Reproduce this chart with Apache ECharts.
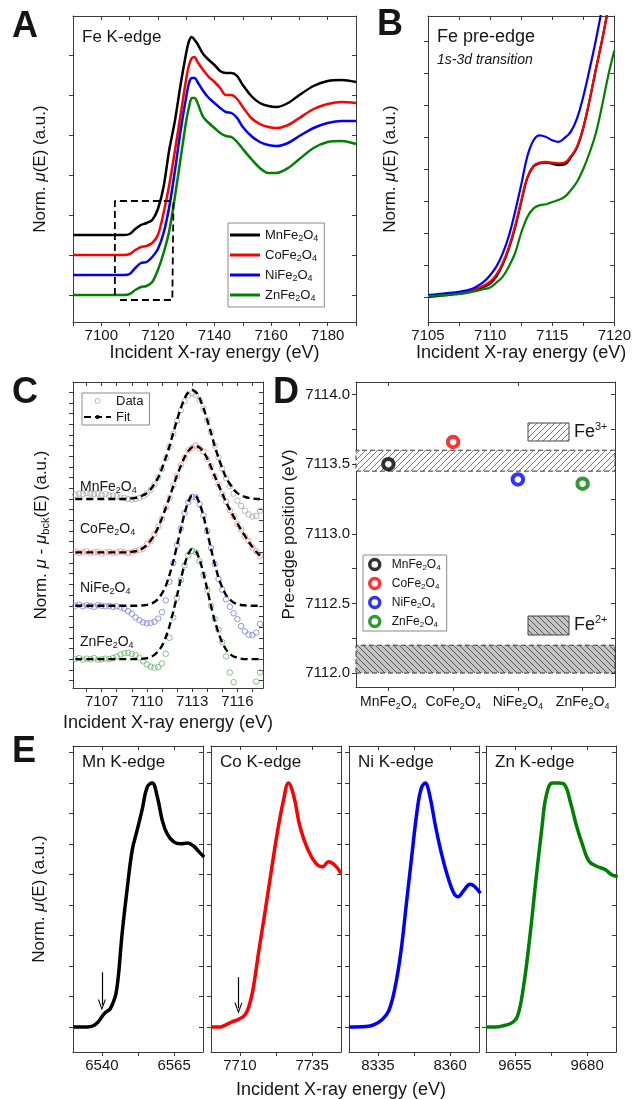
<!DOCTYPE html>
<html><head><meta charset="utf-8">
<script src="https://cdn.jsdelivr.net/npm/echarts@6/dist/echarts.min.js"></script>
<style>html,body{margin:0;padding:0;background:#fff}#c{width:634px;height:1099px}</style>
</head><body><div id="c"></div>
<script>
// ---------------- DATA ----------------
const compounds = ['MnFe2O4','CoFe2O4','NiFe2O4','ZnFe2O4'];
const colors = ['#000000','#ff0000','#0000ff','#008000'];
const dataColors = ['#a6a6a6','#f08a8a','#7a7ae6','#66b366'];

// Panel A: Fe K-edge (offset, arbitrary units)
const aEnergy = [7090,7100,7108,7110,7112,7114,7116,7118,7120,7122,7124,7126,7128,7130,7131,7132,7133,7134,7136,7138,7140,7142,7144,7146,7148,7150,7153,7156,7159,7162,7166,7170,7175,7180,7185,7190];
const aMn = [.30,.30,.30,.305,.33,.35,.36,.375,.43,.54,.725,.87,1.05,1.21,1.27,1.29,1.275,1.255,1.205,1.175,1.15,1.12,1.11,1.11,1.095,1.05,.995,.96,.945,.94,.96,1.0,1.045,1.07,1.075,1.065];
const aCo = [.2,.2,.2,.205,.225,.24,.245,.26,.3,.41,.55,.72,.9,1.08,1.15,1.185,1.19,1.165,1.125,1.09,1.065,1.035,1.0,1.0,.98,.94,.885,.855,.84,.835,.85,.885,.93,.955,.965,.96];
const aNi = [.1,.1,.1,.105,.135,.16,.165,.19,.23,.31,.44,.62,.82,.99,1.06,1.085,1.085,1.065,1.02,.985,.96,.935,.915,.91,.885,.84,.795,.765,.75,.745,.76,.795,.835,.86,.87,.87];
const aZn = [0,0,0,.005,.025,.04,.045,.065,.125,.21,.32,.49,.68,.87,.94,.985,.985,.96,.89,.86,.835,.81,.795,.79,.765,.73,.68,.635,.61,.61,.635,.68,.735,.765,.77,.755];
const boxCorners = [[7104.8,0],[7104.8,0.47],[7125.5,0.47],[7125.1,-0.025],[7106.5,-0.025]];

// Panel B: Fe pre-edge
const bEnergy = [7105,7105.5,7106,7106.5,7107,7107.5,7108,7108.5,7109,7109.5,7110,7110.5,7111,7111.5,7112,7112.5,7113,7113.5,7114,7114.5,7115,7115.5,7116,7116.5,7117,7117.5,7118,7118.5,7119,7119.5,7120];
const bMn = [0,.002,.004,.006,.008,.01,.013,.017,.024,.032,.042,.064,.1,.15,.215,.295,.372,.408,.418,.42,.416,.412,.414,.436,.468,.528,.612,.708,.8,.9,1.0];
const bCo = [.004,.006,.008,.01,.011,.013,.016,.02,.028,.036,.048,.07,.105,.155,.22,.30,.375,.41,.42,.422,.42,.418,.42,.44,.47,.53,.615,.71,.8,.9,1.0];
const bNi = [.006,.008,.01,.012,.014,.016,.02,.025,.035,.048,.068,.095,.135,.19,.265,.35,.44,.49,.505,.5,.49,.485,.497,.517,.558,.626,.71,.8,.9,1.0,1.1];
const bZn = [.003,.004,.005,.006,.008,.01,.012,.016,.02,.025,.03,.045,.063,.095,.136,.2,.25,.277,.287,.29,.297,.303,.313,.334,.36,.4,.45,.51,.595,.69,.77];

// Panel C: background-subtracted pre-edge, data and fit (offset)
const cEnergy = [7105.25,7105.5,7105.75,7106,7106.25,7106.5,7106.75,7107,7107.25,7107.5,7107.75,7108,7108.25,7108.5,7108.75,7109,7109.25,7109.5,7109.75,7110,7110.25,7110.5,7110.75,7111,7111.25,7111.5,7111.75,7112,7112.25,7112.5,7112.75,7113,7113.25,7113.5,7113.75,7114,7114.25,7114.5,7114.75,7115,7115.25,7115.5,7115.75,7116,7116.25,7116.5,7116.75,7117,7117.25,7117.5];
const cMnData = [3.08,3.10,3.09,3.11,3.10,3.09,3.10,3.08,3.09,3.07,3.06,3.05,3.03,3.02,3.0,2.99,3.0,3.02,3.05,3.1,3.17,3.27,3.4,3.56,3.76,3.98,4.22,4.46,4.66,4.83,4.94,4.98,4.95,4.85,4.69,4.48,4.25,4.0,3.78,3.57,3.39,3.24,3.1,2.97,2.87,2.78,2.71,2.67,2.68,2.78];
const cMnFit = [3,3,3,3,3,3,3,3,3,3,3,3,3,3,3,3.01,3.02,3.04,3.07,3.11,3.18,3.28,3.40,3.57,3.77,3.99,4.24,4.48,4.70,4.88,5.0,5.04,5.0,4.88,4.70,4.48,4.24,3.99,3.77,3.57,3.40,3.28,3.18,3.11,3.07,3.04,3.02,3.01,3.0,3.0];
const cCoData = [2.01,1.99,2.0,2.02,1.99,2.0,2.01,1.98,2.0,2.01,1.99,2.0,2.02,2.0,1.99,2.0,2.03,2.05,2.07,2.15,2.21,2.34,2.48,2.63,2.84,3.02,3.25,3.43,3.63,3.77,3.91,3.96,4.0,3.95,3.89,3.75,3.61,3.42,3.27,3.09,2.95,2.79,2.68,2.53,2.43,2.3,2.21,2.09,2.02,1.93];
const cCoFit = [2,2,2,2,2,2,2,2,2,2,2,2,2,2,2,2.01,2.02,2.04,2.08,2.14,2.22,2.33,2.47,2.64,2.83,3.03,3.24,3.44,3.62,3.78,3.9,3.97,3.99,3.96,3.88,3.76,3.6,3.43,3.26,3.1,2.94,2.8,2.67,2.54,2.42,2.31,2.2,2.1,2.01,1.94];
const cNiData = [1.0,1.02,0.99,1.01,1.0,0.98,1.01,1.0,0.99,1.0,0.98,0.99,0.97,0.95,0.9,0.85,0.78,0.73,0.69,0.67,0.68,0.7,0.76,0.88,1.1,1.45,1.8,2.14,2.45,2.74,2.94,3.04,3.03,2.9,2.69,2.4,2.08,1.78,1.5,1.3,1.12,0.98,0.86,0.75,0.62,0.52,0.46,0.45,0.5,0.66];
const cNiFit = [1,1,1,1,1,1,1,1,1,1,1,1,1,1,1,1,1,1,1.008,1.017,1.035,1.07,1.13,1.23,1.37,1.58,1.83,2.13,2.44,2.73,2.95,3.06,3.05,2.91,2.68,2.38,2.07,1.78,1.53,1.34,1.2,1.12,1.06,1.03,1.015,1.007,1,1,1,1];
const cZnData = [0.0,0.02,-0.01,0.01,0.0,0.02,-0.01,0.0,0.01,0.0,0.02,0.05,0.09,0.11,0.12,0.1,0.08,0.03,-0.04,-0.1,-0.14,-0.16,-0.15,-0.08,0.1,0.4,0.78,1.15,1.48,1.76,1.95,2.03,2.0,1.83,1.58,1.3,1.0,0.75,0.55,0.32,0.05,-0.25,-0.43,-0.6,-0.75,-0.8,-0.75,-0.62,-0.42,-0.25];
const cZnFit = [0,0,0,0,0,0,0,0,0,0,0,0,0,0,0,0,0,0,0.01,0.02,0.04,0.08,0.15,0.25,0.41,0.62,0.89,1.19,1.5,1.77,1.97,2.06,2.02,1.86,1.61,1.31,1.0,0.72,0.49,0.31,0.18,0.1,0.05,0.03,0.01,0,0,0,0,0];

// Panel D: pre-edge positions (eV)
const preEdge = [7113.50, 7113.66, 7113.39, 7113.36];
const fe3Band = [7113.45, 7113.60];
const fe2Band = [7112.00, 7112.20];

// Panel E: metal K-edges
const eMn = [[6530,0],[6535,0],[6537,0.005],[6538.8,0.022],[6540,0.042],[6541.2,0.059],[6542.9,0.075],[6544.6,0.124],[6545.2,0.161],[6545.8,0.22],[6547,0.383],[6548.7,0.561],[6550.5,0.725],[6552.2,0.807],[6553.9,0.889],[6555.7,0.984],[6557.4,1.0],[6559.2,0.943],[6560.9,0.847],[6562.6,0.792],[6565,0.758],[6567.3,0.751],[6569.6,0.754],[6571.9,0.74],[6573.7,0.717],[6575.4,0.697]];
const eCo = [[7700,0],[7703,0],[7705.3,0.01],[7707.4,0.022],[7709.5,0.031],[7711.7,0.049],[7713.1,0.083],[7714.5,0.151],[7716.6,0.316],[7718.8,0.48],[7720.9,0.643],[7723,0.8],[7725.1,0.93],[7726.8,1.0],[7728.7,0.944],[7730.8,0.821],[7733.6,0.725],[7736.4,0.67],[7738.6,0.657],[7740.7,0.677],[7742.8,0.664],[7745,0.63]];
const eNi = [[8325,0],[8330.9,0.002],[8333.7,0.01],[8336.5,0.031],[8338.7,0.065],[8340.8,0.154],[8342.9,0.302],[8345,0.52],[8346.7,0.698],[8348.6,0.889],[8350,0.978],[8351.4,1.0],[8352.8,0.957],[8355,0.82],[8357,0.712],[8359.2,0.616],[8361.3,0.548],[8362.7,0.534],[8364.8,0.561],[8366.9,0.585],[8368.4,0.577],[8370.5,0.548]];
const eZn = [[9645,0],[9648.5,0],[9650.9,0.005],[9653.8,0.016],[9655.9,0.044],[9658,0.167],[9660.2,0.372],[9662.3,0.604],[9664.4,0.822],[9665.8,0.945],[9667.9,1.0],[9670,1.0],[9672.2,0.993],[9674.3,0.918],[9676.4,0.822],[9678.6,0.74],[9680.7,0.679],[9683.5,0.658],[9686.4,0.645],[9688.5,0.624],[9690.6,0.617]];
const arrowMn = [[6540,0.224],[6540,0.09]];
const arrowCo = [[7709.5,0.204],[7709.5,0.077]];

// ---------------- STYLE / LAYOUT ----------------
const FONT = 'Liberation Sans, Arial, Helvetica, sans-serif';
const AX = '#3a3a3a';
const TXT = '#151515';
function rich(size){
  return {
    n:{fontSize:size, lineHeight:size+3, color:TXT, fontFamily:FONT},
    i:{fontSize:size, lineHeight:size+3, color:TXT, fontStyle:'italic', fontFamily:FONT},
    s:{fontSize:Math.round(size*0.66), lineHeight:6, verticalAlign:'bottom', color:TXT, fontFamily:FONT},
    p:{fontSize:Math.round(size*0.62), lineHeight:6, verticalAlign:'top', color:TXT, fontFamily:FONT}
  };
}
const chem = s => s.replace(/([A-Za-z]+)(\d)/g,'{n|$1}{s|$2}');
const plain = v => String(v);
function range(a,b,st){const r=[];for(let v=a;v<=b+1e-9;v+=st)r.push(+v.toFixed(4));return r;}

const grids = [
  {left:73, top:16, width:283, height:306},
  {left:428, top:16, width:187, height:306},
  {left:73, top:382, width:190, height:306},
  {left:356, top:382, width:259, height:305},
  {left:73, top:746, width:130, height:306},
  {left:211, top:746, width:130, height:306},
  {left:349, top:746, width:130, height:306},
  {left:486, top:746, width:130, height:306}
];

function xPair(gi,min,max,ticks,labels,name,gap){
  const b = {type:'value',gridIndex:gi,min,max,position:'bottom',
    axisLine:{show:true,onZero:false,lineStyle:{color:AX,width:1}},
    axisTick:{show:true,inside:false,length:4,customValues:ticks,lineStyle:{color:AX}},
    axisLabel:labels?{show:true,customValues:labels,fontSize:15,color:TXT,margin:6,formatter:plain,fontFamily:FONT}:{show:false},
    splitLine:{show:false}};
  if(name){b.name=name;b.nameLocation='middle';b.nameGap=gap;b.nameTextStyle={fontSize:18,color:TXT,fontFamily:FONT};}
  const t = {type:'value',gridIndex:gi,min,max,position:'top',
    axisLine:{show:true,onZero:false,lineStyle:{color:AX,width:1}},
    axisTick:{show:true,inside:true,length:4,customValues:ticks,lineStyle:{color:AX}},
    axisLabel:{show:false},splitLine:{show:false}};
  return [b,t];
}
function yPair(gi,min,max,ticks,labels,name,gap,fmt){
  const l = {type:'value',gridIndex:gi,min,max,position:'left',
    axisLine:{show:true,onZero:false,lineStyle:{color:AX,width:1}},
    axisTick:{show:true,inside:false,length:4,customValues:ticks,lineStyle:{color:AX}},
    axisLabel:labels?{show:true,customValues:labels,fontSize:15,color:TXT,margin:6,formatter:fmt||plain,fontFamily:FONT}:{show:false},
    splitLine:{show:false}};
  if(name){l.name=name;l.nameLocation='middle';l.nameGap=gap;l.nameRotate=90;l.nameTextStyle={fontSize:17,color:TXT,fontFamily:FONT,rich:rich(17)};}
  const r = {type:'value',gridIndex:gi,min,max,position:'right',
    axisLine:{show:true,onZero:false,lineStyle:{color:AX,width:1}},
    axisTick:{show:true,inside:true,length:4,customValues:ticks,lineStyle:{color:AX}},
    axisLabel:{show:false},splitLine:{show:false}};
  return [l,r];
}

const XT = 'Incident X-ray energy (eV)';
const normMu = '{n|Norm. }{i|μ}{n|(E) (a.u.)}';
const xAxis = [], yAxis = [];
// A
xAxis.push(...xPair(0,7090,7190,range(7090,7190,10),range(7100,7180,20),XT,19));
yAxis.push(...yPair(0,-0.135,1.395,range(0,1.2,0.2),null,normMu,23));
// B
xAxis.push(...xPair(1,7105,7120,range(7105,7120,2.5),range(7105,7120,5),XT,19));
yAxis.push(...yPair(1,-0.078,0.878,range(0,0.8,0.1),null,normMu,28));
// C
xAxis.push(...xPair(2,7105.1,7117.7,range(7106,7117,1),[7107,7110,7113,7116],XT,26));
yAxis.push(...yPair(2,-0.54,5.19,range(-0.4,5.0,0.2),null,'{n|Norm. }{i|μ}{n| - }{i|μ}{s|bck}{n|(E) (a.u.)}',22));
// D (category x)
xAxis.push({type:'category',gridIndex:3,data:compounds,boundaryGap:true,position:'bottom',
  axisLine:{show:true,lineStyle:{color:AX}},
  axisTick:{show:true,alignWithLabel:true,inside:false,length:4,lineStyle:{color:AX}},
  axisLabel:{interval:0,margin:7,formatter:chem,rich:rich(14)},splitLine:{show:false}});
xAxis.push({type:'category',gridIndex:3,data:compounds,boundaryGap:true,position:'top',
  axisLine:{show:true,lineStyle:{color:AX}},
  axisTick:{show:true,alignWithLabel:true,inside:true,length:4,lineStyle:{color:AX}},
  axisLabel:{show:false},splitLine:{show:false}});
yAxis.push(...yPair(3,7111.9,7114.09,range(7112,7114,0.25),[7112,7112.5,7113,7113.5,7114],'{n|Pre-edge position (eV)}',57,v=>v.toFixed(1)));
// E
const eRanges = [[6530,6575,[6540,6552.5,6565],[6540,6565]],[7700,7745,[7710,7722.5,7735],[7710,7735]],[8325,8370,[8335,8347.5,8360],[8335,8360]],[9645,9690,[9655,9667.5,9680],[9655,9680]]];
eRanges.forEach((r,k)=>{
  xAxis.push(...xPair(4+k,r[0],r[1],r[2],r[3],null,0));
  yAxis.push(...yPair(4+k,-0.1025,1.152,range(0,1.125,0.125),null,k===0?normMu:null,24));
});

// hatch patterns
function hatch(bg,fg,dir,sz){
  const c=document.createElement('canvas');c.width=sz;c.height=sz;
  const g=c.getContext('2d');g.fillStyle=bg;g.fillRect(0,0,sz,sz);
  g.strokeStyle=fg;g.lineWidth=1;g.beginPath();
  if(dir==='/'){g.moveTo(-1,sz+1);g.lineTo(sz+1,-1);g.moveTo(-2,2);g.lineTo(2,-2);g.moveTo(sz-2,sz+2);g.lineTo(sz+2,sz-2);}
  else{g.moveTo(-1,-1);g.lineTo(sz+1,sz+1);g.moveTo(-2,sz-2);g.lineTo(2,sz+2);g.moveTo(sz-2,-2);g.lineTo(sz+2,2);}
  g.stroke();return c;
}
const pat3 = {image:hatch('#ffffff','#7a7a7a','/',6),repeat:'repeat'};
const pat2 = {image:hatch('#c4c4c4','#555555','\\',6),repeat:'repeat'};

const zip = (xs,ys) => xs.map((x,i)=>[x,ys[i]]);
const series = [];
// A
[aMn,aCo,aNi,aZn].forEach((v,i)=>series.push({type:'line',name:['Mn_A','Co_A','Ni_A','Zn_A'][i],xAxisIndex:0,yAxisIndex:0,
  data:zip(aEnergy,v),symbol:'none',smooth:0.3,lineStyle:{color:colors[i],width:2.5},itemStyle:{color:colors[i]},z:3}));
series.push({type:'line',name:'box',xAxisIndex:0,yAxisIndex:0,data:boxCorners,symbol:'none',
  lineStyle:{color:'#000',width:1.8,type:[7,4]},z:4});
// B
[bMn,bCo,bNi,bZn].forEach((v,i)=>series.push({type:'line',name:['Mn_B','Co_B','Ni_B','Zn_B'][i],xAxisIndex:2,yAxisIndex:2,
  data:zip(bEnergy,v),symbol:'none',smooth:0.4,lineStyle:{color:colors[i],width:2.2},itemStyle:{color:colors[i]}}));
// C
const cData=[cMnData,cCoData,cNiData,cZnData], cFit=[cMnFit,cCoFit,cNiFit,cZnFit];
cData.forEach((v,i)=>series.push({type:'scatter',name:'Data',xAxisIndex:4,yAxisIndex:4,data:zip(cEnergy,v),
  symbol:'circle',symbolSize:5.5,itemStyle:{color:'rgba(255,255,255,0)',borderColor:dataColors[i],borderWidth:1},z:2}));
cFit.forEach((v,i)=>series.push({type:'line',name:'Fit',xAxisIndex:4,yAxisIndex:4,data:zip(cEnergy,v),symbol:'none',smooth:0.3,
  lineStyle:{color:'#000',width:2.4,type:[7,4]},itemStyle:{color:'#000'},z:4}));
// D
compounds.forEach((c,i)=>{
  const s={type:'scatter',name:['Mn_D','Co_D','Ni_D','Zn_D'][i],xAxisIndex:6,yAxisIndex:6,data:[[c,preEdge[i]]],
    symbol:'circle',symbolSize:10.5,itemStyle:{color:'#fff',borderColor:colors[i],borderWidth:4},z:5};
  if(i===0){s.markArea={silent:true,z:1,data:[
    [{yAxis:fe3Band[0],itemStyle:{color:pat3,borderColor:'#333',borderWidth:1,borderType:[5,3]}},{yAxis:fe3Band[1]}],
    [{yAxis:fe2Band[0],itemStyle:{color:pat2,borderColor:'#333',borderWidth:1,borderType:[5,3]}},{yAxis:fe2Band[1]}]]};}
  series.push(s);
});
// E
const arrowSym='path://M0,10L5,0L10,10L8.6,10L5,2.8L1.4,10Z';
[eMn,eCo,eNi,eZn].forEach((d,k)=>{
  const s={type:'line',name:['Mn_E','Co_E','Ni_E','Zn_E'][k],xAxisIndex:8+2*k,yAxisIndex:8+2*k,data:d,symbol:'none',smooth:0.4,
    lineStyle:{color:colors[k],width:3.5},itemStyle:{color:colors[k]}};
  const ar = k===0?arrowMn:(k===1?arrowCo:null);
  if(ar){s.markLine={silent:true,symbol:['none',arrowSym],symbolSize:[8,11],label:{show:false},
    lineStyle:{color:'#000',width:1.2,type:'solid'},data:[[{coord:ar[0]},{coord:ar[1]}]]};}
  series.push(s);
});

const names = {Mn_A:'MnFe2O4',Co_A:'CoFe2O4',Ni_A:'NiFe2O4',Zn_A:'ZnFe2O4',Mn_D:'MnFe2O4',Co_D:'CoFe2O4',Ni_D:'NiFe2O4',Zn_D:'ZnFe2O4'};
const legend = [
  {data:['Mn_A','Co_A','Ni_A','Zn_A'],left:228,top:223,orient:'vertical',icon:'rect',itemWidth:30,itemHeight:3,itemGap:4,
   padding:[4,6,4,2],borderColor:'#8a8a8a',borderWidth:1,backgroundColor:'#fff',selectedMode:false,
   formatter:n=>chem(names[n]),textStyle:{rich:rich(13),lineHeight:16}},
  {data:[{name:'Data',icon:'circle',itemStyle:{color:'rgba(255,255,255,0)',borderColor:'#a6a6a6',borderWidth:1}},{name:'Fit'}],
   left:82,top:393,orient:'vertical',itemWidth:27,itemHeight:5,itemGap:0,padding:[0,6,0,1],borderColor:'#8a8a8a',borderWidth:1,
   backgroundColor:'#fff',selectedMode:false,textStyle:{fontSize:13,lineHeight:16,color:TXT,fontFamily:FONT}},
  {data:['Mn_D','Co_D','Ni_D','Zn_D'],left:363,top:555,orient:'vertical',itemWidth:24,itemHeight:10,itemGap:4,
   padding:[2,6,2,5],borderColor:'#8a8a8a',borderWidth:1,backgroundColor:'#fff',selectedMode:false,
   itemStyle:{borderWidth:3.5},formatter:n=>chem(names[n]),textStyle:{rich:rich(12),lineHeight:16}}
];

const T = (x,y,text,size,extra) => Object.assign({type:'text',x,y,z:100,style:Object.assign({text,fontSize:size,fontFamily:FONT,fill:TXT,verticalAlign:'middle'},extra||{})});
const graphic = [
  T(12,27,'A',36,{fontWeight:'bold'}), T(377,25,'B',36,{fontWeight:'bold'}),
  T(12,393,'C',36,{fontWeight:'bold'}), T(273,393,'D',36,{fontWeight:'bold'}), T(12,752,'E',36,{fontWeight:'bold'}),
  T(82,37,'Fe K-edge',17), T(437,37,'Fe pre-edge',18), T(437,60,'1s-3d transition',14,{fontStyle:'italic'}),
  T(80,487,chem('MnFe2O4'),14,{rich:rich(14)}), T(80,529,chem('CoFe2O4'),14,{rich:rich(14)}),
  T(80,588,chem('NiFe2O4'),14,{rich:rich(14)}), T(80,642,chem('ZnFe2O4'),14,{rich:rich(14)}),
  {type:'rect',z:100,shape:{x:528,y:423,width:41,height:18},style:{fill:pat3,stroke:'#444',lineWidth:1}},
  {type:'rect',z:100,shape:{x:528,y:616,width:41,height:19},style:{fill:pat2,stroke:'#444',lineWidth:1}},
  T(574,432,'{n|Fe}{p|3+}',18,{rich:rich(18)}), T(574,625,'{n|Fe}{p|2+}',18,{rich:rich(18)}),
  T(82,762,'Mn K-edge',17), T(220,762,'Co K-edge',17), T(358,762,'Ni K-edge',17), T(495,762,'Zn K-edge',17),
  T(341,1090,XT,18,{align:'center'})
];

const chart = echarts.init(document.getElementById('c'),null,{renderer:'canvas'});
chart.setOption({animation:false,backgroundColor:'#fff',textStyle:{fontFamily:FONT},
  grid:grids,xAxis,yAxis,series,legend,graphic});
</script></body></html>
